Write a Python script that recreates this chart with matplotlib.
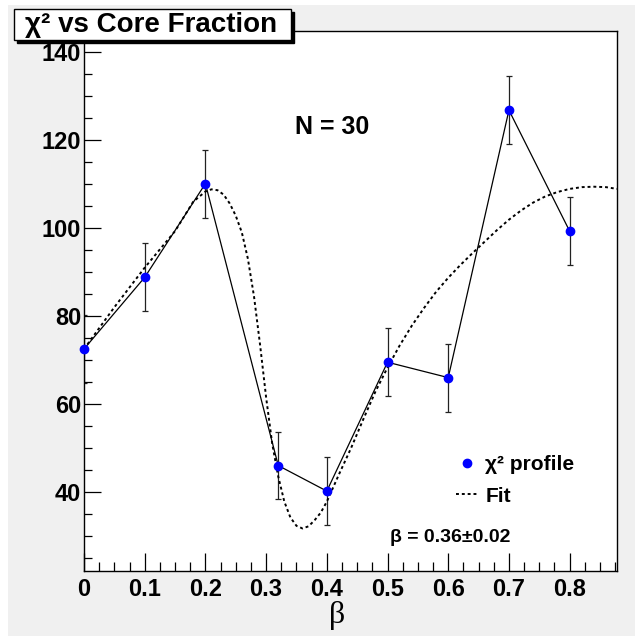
import matplotlib
matplotlib.use('Agg')
import matplotlib.pyplot as plt
from matplotlib.ticker import MultipleLocator, FuncFormatter
from matplotlib.patches import Rectangle

plt.rcParams['font.family'] = ['Liberation Sans', 'DejaVu Sans']
plt.rcParams['font.weight'] = 'bold'

# chi2 profile points
beta = [0.0, 0.1, 0.2, 0.32, 0.4, 0.5, 0.6, 0.7, 0.8]
chi2 = [72.5, 88.8, 110.1, 46.0, 40.2, 69.5, 66.0, 126.8, 99.3]
chi2_err = [7.75, 7.7, 7.75, 7.7, 7.8, 7.75, 7.75, 7.75, 7.7]

# fit curve
fit_beta = [0.0, 0.05, 0.10, 0.15, 0.18, 0.20, 0.21, 0.22, 0.23, 0.24, 0.25,
            0.26, 0.27, 0.28, 0.29, 0.30, 0.31, 0.32, 0.33, 0.34, 0.35, 0.36,
            0.37, 0.38, 0.39, 0.40, 0.42, 0.44, 0.46, 0.48, 0.50, 0.52, 0.54,
            0.56, 0.58, 0.60, 0.62, 0.64, 0.66, 0.68, 0.70, 0.72, 0.74, 0.76,
            0.78, 0.80, 0.82, 0.84, 0.86, 0.878]
fit_chi2 = [72.5, 82.0, 91.0, 99.3, 106.0, 108.3, 108.8, 108.6, 107.6, 105.6, 102.8,
            99.0, 93.0, 84.5, 73.5, 61.5, 51.0, 43.5, 37.8, 34.2, 32.3, 31.7,
            32.2, 33.6, 35.3, 37.8, 44.0, 50.0, 56.5, 62.8, 68.3, 73.3, 77.8,
            81.8, 85.5, 88.7, 91.6, 94.3, 96.9, 99.5, 101.9, 104.0, 105.8, 107.2,
            108.2, 108.9, 109.3, 109.4, 109.3, 108.9]

W, H = 635, 636
fig = plt.figure(figsize=(W / 100, H / 100), dpi=100, facecolor='white')
fig.patches.append(Rectangle((8 / W, 0), 1, (H - 5) / H, transform=fig.transFigure,
                             fc='#f0f0f0', ec='none', zorder=-10))

ax = fig.add_axes([84 / W, (H - 570.7) / H, (617 - 84) / W, (570.7 - 31) / H])
ax.set_facecolor('white')

ax.plot(beta, chi2, '-', color='black', lw=0.9, zorder=2)
ax.errorbar(beta, chi2, yerr=chi2_err, fmt='none', ecolor='#222222', elinewidth=0.9,
            capsize=2.5, capthick=0.9, zorder=2)
pts, = ax.plot(beta, chi2, 'o', color='#0000ff', ms=6, mec='#0000ff', zorder=4,
               label='χ² profile', clip_on=False)
fitl, = ax.plot(fit_beta, fit_chi2, color='black', lw=1.4, ls=(0, (1.5, 1.5)),
                zorder=3, label='Fit')

ax.set_xlim(0, 0.878)
ax.set_ylim(22.1, 144.8)
ax.xaxis.set_major_locator(MultipleLocator(0.1))
ax.xaxis.set_minor_locator(MultipleLocator(0.025))
ax.yaxis.set_major_locator(MultipleLocator(20))
ax.yaxis.set_minor_locator(MultipleLocator(5))
ax.xaxis.set_major_formatter(FuncFormatter(lambda v, p: '0' if abs(v) < 1e-9 else f'{v:.1f}'))
ax.tick_params(axis='both', which='both', direction='in', top=False, right=False,
               color='black', width=0.9)
ax.tick_params(axis='x', which='major', length=13, labelsize=17, pad=5)
ax.tick_params(axis='x', which='minor', length=6.5)
ax.tick_params(axis='y', which='major', length=12, labelsize=17, pad=2)
ax.tick_params(axis='y', which='minor', length=6)
for s in ax.spines.values():
    s.set_color('black')
    s.set_linewidth(1.0)

fig.text(337 / W, 1 - 616 / H, 'β', family=['Liberation Serif', 'DejaVu Serif'],
         weight='normal', fontsize=23, ha='center', va='center')

ax.text(332 / W, 1 - 127 / H, 'N = 30', transform=fig.transFigure, fontsize=18,
        ha='center', va='center')
ax.text(450 / W, 1 - 537 / H, 'β = 0.36±0.02', transform=fig.transFigure, fontsize=14,
        ha='center', va='center')

ax.legend(handles=[pts, fitl], loc='upper left', bbox_to_anchor=(456 / W, 1 - 455 / H),
          bbox_transform=fig.transFigure, frameon=False, fontsize=15, borderpad=0,
          borderaxespad=0, handlelength=1.1, handletextpad=0.3, labelspacing=0.6,
          numpoints=1)

# title box with shadow (pixel box from the reference)
fig.patches.append(Rectangle((17 / W, 1 - 43 / H), 277 / W, 31 / H,
                             transform=fig.transFigure, fc='black', ec='black', zorder=5))
fig.patches.append(Rectangle((14 / W, 1 - 40 / H), 277 / W, 31 / H,
                             transform=fig.transFigure, fc='white', ec='black', lw=1,
                             zorder=6))
fig.text(25 / W, 1 - 25 / H, 'χ² vs Core Fraction', fontsize=20, color='black',
         va='center', ha='left', zorder=7)

fig.savefig('out.png', dpi=100, facecolor=fig.get_facecolor())
